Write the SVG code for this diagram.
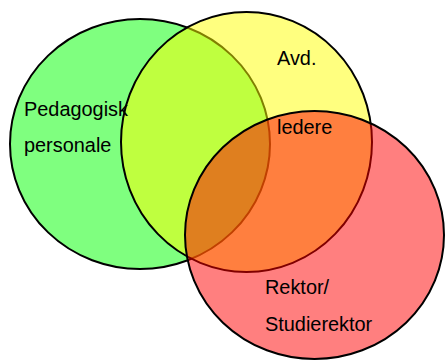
<svg xmlns="http://www.w3.org/2000/svg" width="445" height="360" viewBox="0 0 445 360">
  <style>
    .set { stroke: #000; stroke-width: 2; fill-opacity: 0.5; }
    .lbl { font-family: "Liberation Sans", Arial, sans-serif; font-size: 19.9px; fill: #000; }
  </style>
  <rect width="445" height="360" fill="#fff"/>
  <g id="pedagogisk">
    <ellipse class="set" cx="140" cy="144" rx="130" ry="125" fill="#00ff00"/>
  </g>
  <g id="avd-ledere">
    <ellipse class="set" cx="246.5" cy="142" rx="125.5" ry="130" fill="#ffff00"/>
  </g>
  <g id="rektor">
    <ellipse class="set" cx="314.5" cy="235" rx="129.5" ry="124" fill="#ff0000"/>
  </g>
  <g id="labels">
    <text class="lbl" x="24" y="116">Pedagogisk</text>
    <text class="lbl" x="24" y="152">personale</text>
    <text class="lbl" x="277" y="65">Avd.</text>
    <text class="lbl" x="277" y="134">ledere</text>
    <text class="lbl" x="265" y="294">Rektor/</text>
    <text class="lbl" x="265" y="331">Studierektor</text>
  </g>
</svg>
